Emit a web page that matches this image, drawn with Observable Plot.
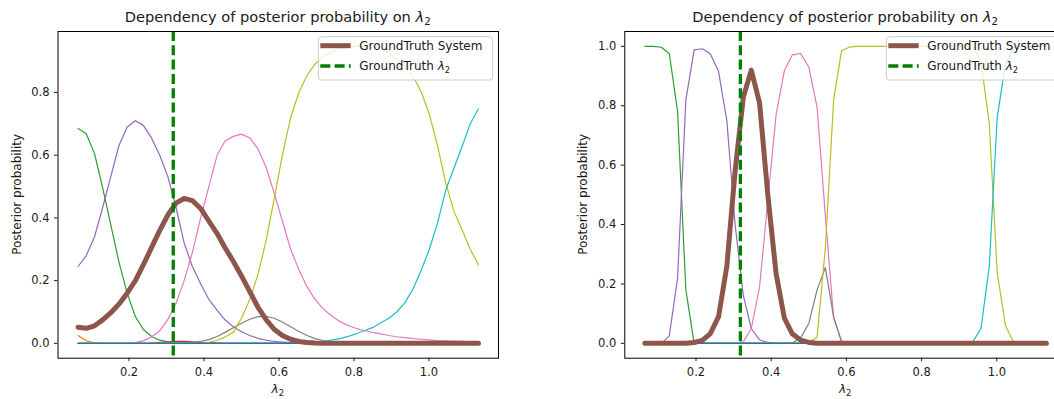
<!DOCTYPE html>
<html>
<head>
<meta charset="utf-8">
<script src="https://cdn.jsdelivr.net/npm/d3@7"></script>
<script src="https://cdn.jsdelivr.net/npm/@observablehq/plot@0.6"></script>
<style>
  html, body { margin: 0; padding: 0; background: #fff; overflow: hidden; }
  body { width: 1054px; height: 399px; position: relative; }
  .panel { position: absolute; top: 0; height: 399px; }
  .panel svg { display: block; max-width: none !important; }
</style>
</head>
<body>
<div id="left" class="panel" style="left:0px; width:520px"></div>
<div id="right" class="panel" style="left:566px; width:522px"></div>
<script>
// λ2 grid shared by both panels
const lambda2 = [0.064,0.086,0.108,0.129,0.151,0.173,0.195,0.217,0.238,0.260,
                 0.282,0.304,0.326,0.347,0.369,0.391,0.413,0.435,0.456,0.478,
                 0.500,0.522,0.544,0.566,0.587,0.609,0.631,0.653,0.675,0.696,
                 0.718,0.740,0.762,0.784,0.805,0.827,0.849,0.871,0.893,0.914,
                 0.936,0.958,0.980,1.001,1.023,1.045,1.067,1.089,1.110,1.132];
const groundTruthLambda2 = 0.318;
const xTicks = [0.2, 0.4, 0.6, 0.8, 1.0];
const yTicksLeft = [0.0, 0.2, 0.4, 0.6, 0.8];
const yTicksRight = [0.0, 0.2, 0.4, 0.6, 0.8, 1.0];

// Left panel: posterior probability of each candidate system
const leftBlue   = Array(50).fill(0);
const leftOrange = [0.025,0.008,0.002,0,0,0,0,0,0,0, 0,0,0,0,0,0,0,0,0,0, 0,0,0,0,0,0,0,0,0,0, 0,0,0,0,0,0,0,0,0,0, 0,0,0,0,0,0,0,0,0,0];
const leftGreen  = [0.685,0.668,0.605,0.50,0.38,0.26,0.16,0.085,0.045,0.022, 0.010,0.005,0.002,0.001,0,0,0,0,0,0, 0,0,0,0,0,0,0,0,0,0, 0,0,0,0,0,0,0,0,0,0, 0,0,0,0,0,0,0,0,0,0];
const leftRed    = [0,0,0,0,0,0,0,0,0,0.001, 0.003,0.005,0.006,0.006,0.005,0.003,0.002,0.001,0,0, 0,0,0,0,0,0,0,0,0,0, 0,0,0,0,0,0,0,0,0,0, 0,0,0,0,0,0,0,0,0,0];
const leftPurple = [0.245,0.28,0.34,0.43,0.53,0.63,0.69,0.71,0.695,0.655, 0.60,0.53,0.43,0.32,0.245,0.19,0.14,0.105,0.075,0.053, 0.037,0.025,0.016,0.010,0.006,0.004,0.002,0.001,0,0, 0,0,0,0,0,0,0,0,0,0, 0,0,0,0,0,0,0,0,0,0];
const leftBrown  = [0.051,0.048,0.056,0.074,0.097,0.125,0.16,0.20,0.25,0.305, 0.36,0.41,0.448,0.462,0.455,0.43,0.39,0.35,0.305,0.262, 0.215,0.165,0.115,0.075,0.045,0.025,0.013,0.006,0.003,0.001, 0,0,0,0,0,0,0,0,0,0, 0,0,0,0,0,0,0,0,0,0];
const leftPink   = [0,0,0,0,0,0,0.001,0.003,0.008,0.02, 0.04,0.077,0.13,0.2,0.29,0.40,0.50,0.60,0.645,0.66, 0.667,0.655,0.62,0.56,0.48,0.39,0.30,0.235,0.18,0.14, 0.11,0.088,0.07,0.057,0.048,0.041,0.035,0.03,0.025,0.021, 0.018,0.015,0.013,0.011,0.009,0.008,0.007,0.006,0.005,0.004];
const leftGray   = [0,0,0,0,0,0,0,0,0,0, 0,0,0,0.001,0.003,0.006,0.012,0.022,0.035,0.05, 0.064,0.077,0.085,0.086,0.08,0.068,0.053,0.038,0.025,0.015, 0.009,0.005,0.003,0.001,0,0,0,0,0,0, 0,0,0,0,0,0,0,0,0,0];
const leftOlive  = [0,0,0,0,0,0,0,0,0,0, 0,0,0,0,0,0,0.003,0.01,0.02,0.035, 0.08,0.14,0.22,0.33,0.46,0.6,0.72,0.80,0.855,0.89, 0.915,0.93,0.94,0.945,0.947,0.947,0.945,0.94,0.925,0.905, 0.88,0.85,0.80,0.73,0.63,0.51,0.42,0.36,0.30,0.25];
const leftCyan   = [0,0,0,0,0,0,0,0,0,0, 0,0,0,0,0,0,0,0,0,0, 0,0,0,0,0,0,0,0,0.001,0.003, 0.006,0.01,0.015,0.022,0.03,0.04,0.05,0.065,0.08,0.10, 0.13,0.175,0.235,0.30,0.385,0.49,0.56,0.63,0.70,0.748];

// Right panel: posterior probability of each candidate system
const rightBlue   = Array(50).fill(0);
const rightOrange = Array(50).fill(0);
const rightGreen  = [1.0,1.0,0.997,0.975,0.78,0.18,0,0,0,0, 0,0,0,0,0,0,0,0,0,0, 0,0,0,0,0,0,0,0,0,0, 0,0,0,0,0,0,0,0,0,0, 0,0,0,0,0,0,0,0,0,0];
const rightRed    = Array(50).fill(0);
const rightPurple = [0,0,0,0.025,0.22,0.82,0.988,0.992,0.975,0.915, 0.75,0.40,0.16,0.05,0.012,0.003,0,0,0,0, 0,0,0,0,0,0,0,0,0,0, 0,0,0,0,0,0,0,0,0,0, 0,0,0,0,0,0,0,0,0,0];
const rightBrown  = [0,0,0,0,0,0,0.003,0.01,0.033,0.09, 0.26,0.58,0.83,0.92,0.81,0.5,0.235,0.085,0.032,0.011, 0.003,0,0,0,0,0,0,0,0,0, 0,0,0,0,0,0,0,0,0,0, 0,0,0,0,0,0,0,0,0,0];
const rightPink   = [0,0,0,0,0,0,0,0,0,0, 0,0,0.005,0.05,0.19,0.48,0.77,0.918,0.971,0.976, 0.93,0.795,0.43,0.085,0.008,0,0,0,0,0, 0,0,0,0,0,0,0,0,0,0, 0,0,0,0,0,0,0,0,0,0];
const rightGray   = [0,0,0,0,0,0,0,0,0,0, 0,0,0,0,0,0,0,0,0.002,0.017, 0.067,0.18,0.255,0.09,0.005,0,0,0,0,0, 0,0,0,0,0,0,0,0,0,0, 0,0,0,0,0,0,0,0,0,0];
const rightOlive  = [0,0,0,0,0,0,0,0,0,0, 0,0,0,0,0,0,0,0,0,0, 0.005,0.02,0.32,0.82,0.985,0.998,1,1,1,1, 1,1,1,1,1,1,1,1,1,1, 1,0.95,0.74,0.24,0.06,0.003,0,0,0,0];
const rightCyan   = [0,0,0,0,0,0,0,0,0,0, 0,0,0,0,0,0,0,0,0,0, 0,0,0,0,0,0,0,0,0,0, 0,0,0,0,0,0,0,0,0,0, 0.005,0.05,0.26,0.76,0.94,0.997,1,1,1,1];

const palette = {
  blue: "#1f77b4", orange: "#ff7f0e", green: "#2ca02c", red: "#d62728", purple: "#9467bd",
  brown: "#8c564b", pink: "#e377c2", gray: "#7f7f7f", olive: "#bcbd22", cyan: "#17becf"
};
const FONT = "DejaVu Sans, sans-serif";
const INK = "#1a1a1a";

function padded(values) {
  const [lo, hi] = d3.extent(values);
  const pad = 0.05 * (hi - lo);
  return [lo - pad, hi + pad];
}

function drawPanel(el, {width, marginLeft, marginRight, thin, truth, yTicks}) {
  const height = 399, marginTop = 31, marginBottom = 41.3;
  const allY = thin.concat([truth]).flatMap(s => s.values);
  const line = (s, w) => Plot.lineY(s.values, {x: lambda2, stroke: s.color, strokeWidth: w, strokeLinejoin: "round"});

  const chart = Plot.plot({
    width, height, marginLeft, marginRight, marginTop, marginBottom,
    style: {fontFamily: FONT, fontSize: "11.5px", color: INK, background: "white", overflow: "visible", maxWidth: "none"},
    x: {domain: padded(lambda2)},
    y: {domain: padded(allY)},
    marks: [
      ...thin.map(s => line(s, 1.2)),
      line(truth, 5),
      Plot.ruleX([groundTruthLambda2], {stroke: "#008000", strokeWidth: 3.3, strokeDasharray: "10,4.3"}),
      Plot.frame({stroke: "#000", strokeWidth: 1}),
      Plot.axisX({ticks: xTicks, tickFormat: d3.format(".1f"), tickSize: 3.5, tickPadding: 6.5, label: null}),
      Plot.axisY({ticks: yTicks, tickFormat: d3.format(".1f"), tickSize: 3.5, tickPadding: 5, label: null})
    ]
  });
  el.appendChild(chart);

  const svg = d3.select(chart);
  const frameL = marginLeft, frameR = width - marginRight;
  const cx = (frameL + frameR) / 2;
  const cy = (marginTop + height - marginBottom) / 2;
  const g = svg.append("g").attr("font-family", FONT).attr("fill", INK);

  // title
  const title = g.append("text").attr("x", cx).attr("y", 22).attr("text-anchor", "middle").attr("font-size", 14.6);
  title.append("tspan").text("Dependency of posterior probability on ");
  title.append("tspan").attr("font-style", "italic").text("λ");
  title.append("tspan").attr("font-size", "70%").attr("dy", 3).text("2");

  // axis labels
  const xl = g.append("text").attr("x", cx).attr("y", 393).attr("text-anchor", "middle").attr("font-size", 12);
  xl.append("tspan").attr("font-style", "italic").text("λ");
  xl.append("tspan").attr("font-size", "70%").attr("dy", 2.5).text("2");
  g.append("text").attr("transform", `translate(20.5,${cy}) rotate(-90)`).attr("text-anchor", "middle")
    .attr("font-size", 12).text("Posterior probability");

  // legend
  const boxW = 174.4, boxH = 43.3;
  const bx = frameR - 5.3 - boxW, by = 36.7;
  const lg = g.append("g").attr("text-anchor", "start");
  lg.append("rect").attr("x", bx).attr("y", by).attr("width", boxW).attr("height", boxH).attr("rx", 3)
    .attr("fill", "white").attr("fill-opacity", 0.8).attr("stroke", "#cccccc").attr("stroke-width", 1);
  lg.append("line").attr("x1", bx + 2).attr("x2", bx + 32.4).attr("y1", 45.7).attr("y2", 45.7)
    .attr("stroke", truth.color).attr("stroke-width", 5);
  lg.append("line").attr("x1", bx + 2).attr("x2", bx + 32.4).attr("y1", 66).attr("y2", 66)
    .attr("stroke", "#008000").attr("stroke-width", 3.3).attr("stroke-dasharray", "10,4.3");
  lg.append("text").attr("x", bx + 41).attr("y", 50.3).attr("font-size", 12).text("GroundTruth System");
  const l2 = lg.append("text").attr("x", bx + 41).attr("y", 70.4).attr("font-size", 12);
  l2.append("tspan").text("GroundTruth ");
  l2.append("tspan").attr("font-style", "italic").text("λ");
  l2.append("tspan").attr("font-size", "70%").attr("dy", 2.5).text("2");
}

const thinSeries = (o, g, r, p, pk, gy, ol, c, b) => [
  {values: o, color: palette.orange}, {values: g, color: palette.green}, {values: r, color: palette.red},
  {values: p, color: palette.purple}, {values: pk, color: palette.pink}, {values: gy, color: palette.gray},
  {values: ol, color: palette.olive}, {values: c, color: palette.cyan}, {values: b, color: palette.blue}
];

drawPanel(document.getElementById("left"), {
  width: 520, marginLeft: 57.5, marginRight: 22,
  thin: thinSeries(leftOrange, leftGreen, leftRed, leftPurple, leftPink, leftGray, leftOlive, leftCyan, leftBlue),
  truth: {values: leftBrown, color: palette.brown},
  yTicks: yTicksLeft
});
drawPanel(document.getElementById("right"), {
  width: 522, marginLeft: 58.3, marginRight: 22,
  thin: thinSeries(rightOrange, rightGreen, rightRed, rightPurple, rightPink, rightGray, rightOlive, rightCyan, rightBlue),
  truth: {values: rightBrown, color: palette.brown},
  yTicks: yTicksRight
});
</script>
</body>
</html>
